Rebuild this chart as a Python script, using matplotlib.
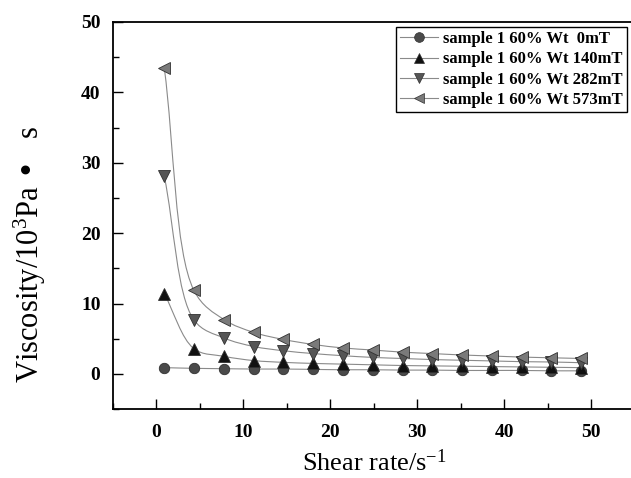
import numpy as np
import matplotlib
matplotlib.use("Agg")
import matplotlib.pyplot as plt
from matplotlib.path import Path
from matplotlib.patches import PathPatch
from matplotlib.lines import Line2D
from matplotlib.ticker import MultipleLocator

plt.rcParams["font.family"] = "Liberation Serif"
plt.rcParams["mathtext.default"] = "regular"

# shear rate (1/s)
shear = [0.9, 4.3, 7.8, 11.2, 14.6, 18.0, 21.4, 24.9, 28.3, 31.7, 35.1, 38.6, 42.0, 45.4, 48.8]

# viscosity (10^3 Pa s)
visc_0 = [0.9, 0.8, 0.75, 0.7, 0.7, 0.65, 0.6, 0.6, 0.55, 0.55, 0.5, 0.5, 0.5, 0.45, 0.45]
visc_140 = [11.4, 3.6, 2.5, 1.9, 1.65, 1.5, 1.4, 1.3, 1.2, 1.15, 1.1, 1.05, 1.0, 0.95, 0.9]
visc_282 = [28.1, 7.7, 5.1, 3.9, 3.3, 2.9, 2.6, 2.35, 2.2, 2.05, 1.95, 1.85, 1.75, 1.7, 1.6]
visc_573 = [43.5, 11.9, 7.7, 5.9, 4.9, 4.2, 3.7, 3.4, 3.1, 2.9, 2.7, 2.55, 2.4, 2.3, 2.2]

labels = ["sample 1 60% Wt  0mT", "sample 1 60% Wt 140mT",
          "sample 1 60% Wt 282mT", "sample 1 60% Wt 573mT"]


def smooth_path(x, y, sx=8.7, sy=7.0):
    # centripetal catmull-rom through the points, as cubic bezier segments
    pts = np.column_stack([x, y]).astype(float)
    ext = np.vstack([2 * pts[0] - pts[1], pts, 2 * pts[-1] - pts[-2]])
    scale = np.array([sx, sy])

    def dist(a, b):
        return np.sqrt(np.hypot(*((b - a) * scale)))

    verts = [tuple(pts[0])]
    codes = [Path.MOVETO]
    for k in range(1, len(ext) - 2):
        p0, p1, p2, p3 = ext[k - 1], ext[k], ext[k + 1], ext[k + 2]
        d1, d2, d3 = dist(p0, p1), dist(p1, p2), dist(p2, p3)
        b1 = (d1**2 * p2 - d2**2 * p0 + (2 * d1**2 + 3 * d1 * d2 + d2**2) * p1) / (3 * d1 * (d1 + d2))
        b2 = (d3**2 * p1 - d2**2 * p3 + (2 * d3**2 + 3 * d3 * d2 + d2**2) * p2) / (3 * d3 * (d3 + d2))
        verts += [tuple(b1), tuple(b2), tuple(p2)]
        codes += [Path.CURVE4] * 3
    return Path(verts, codes)


fig = plt.figure(figsize=(6.31, 4.78), dpi=100)
ax = fig.add_axes([0.179, 0.144, 0.827, 0.810])

styles = [
    (visc_0, "o", "#4a4a4a", 7.5),
    (visc_140, "^", "#111111", 8.5),
    (visc_282, "v", "#555555", 8.5),
    (visc_573, "<", "#7a7a7a", 9),
]

handles = []
for (vals, mk, col, ms), lab in zip(styles, labels):
    ax.add_patch(PathPatch(smooth_path(shear, vals), fill=False,
                           edgecolor="#8a8a8a", lw=0.8, zorder=2))
    ax.plot(shear, vals, linestyle="none", marker=mk, ms=ms,
            markerfacecolor=col, markeredgecolor="#303030", markeredgewidth=0.6, zorder=3)
    handles.append(Line2D([], [], color="#8a8a8a", lw=0.8, marker=mk, ms=7,
                          markerfacecolor=col, markeredgecolor="#303030",
                          markeredgewidth=0.5))

ax.set_xlim(-5, 55)
ax.set_ylim(-5, 50)
ax.xaxis.set_major_locator(MultipleLocator(10))
ax.xaxis.set_minor_locator(MultipleLocator(5))
ax.yaxis.set_major_locator(MultipleLocator(10))
ax.yaxis.set_minor_locator(MultipleLocator(5))
ax.tick_params(which="both", direction="in", top=False, right=False, width=1.0)
ax.tick_params(which="major", length=7, labelsize=14)
ax.tick_params(axis="x", which="major", pad=11)
ax.tick_params(axis="y", which="major", pad=9)
ax.tick_params(which="minor", length=4)
for t in ax.get_xticklabels() + ax.get_yticklabels():
    t.set_fontweight("bold")
for s in ax.spines.values():
    s.set_linewidth(1.3)

ax.set_xlabel("Shear rate/s$^{-1}$", fontsize=19, labelpad=6)
ax.set_ylabel("Viscosity/10$^{3}$Pa •   s", fontsize=22)
ax.yaxis.set_label_coords(-0.125, 0.40)

leg = ax.legend(handles, labels, loc="upper right", bbox_to_anchor=(0.994, 0.9435),
                bbox_transform=fig.transFigure, borderaxespad=0, fancybox=False,
                edgecolor="black", framealpha=1, handlelength=2.3, handletextpad=0.3,
                labelspacing=0.25, borderpad=0.25,
                prop={"weight": "bold", "size": 12})
leg.get_frame().set_linewidth(1.0)

fig.savefig("out.png", dpi=100)
